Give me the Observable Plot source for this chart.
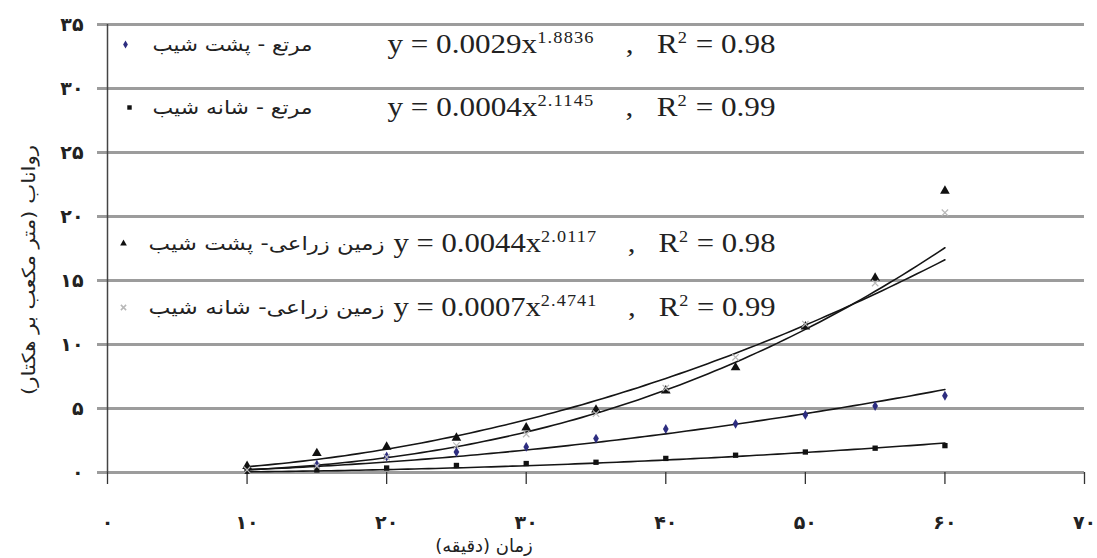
<!DOCTYPE html>
<html><head><meta charset="utf-8">
<script src="https://cdn.jsdelivr.net/npm/d3@7"></script>
<script src="https://cdn.jsdelivr.net/npm/@observablehq/plot@0.6"></script>
<style>body{margin:0;background:#fff;}</style>
</head><body><div id="chart"></div>
<script>
// ---- data ----
const times = [10, 15, 20, 25, 30, 35, 40, 45, 50, 55, 60];
const seriesNames = ["مرتع - پشت شیب", "مرتع - شانه شیب", "زمین زراعی- پشت شیب", "زمین زراعی- شانه شیب"];
const rangeBack     = [0.3, 0.6, 1.25, 1.6, 2.0, 2.65, 3.4, 3.8, 4.5, 5.2, 6.0];
const rangeShoulder = [0.1, 0.2, 0.35, 0.55, 0.7, 0.8, 1.1, 1.35, 1.6, 1.9, 2.1];
const farmBack      = [0.5, 1.5, 2.0, 2.7, 3.5, 4.9, 6.4, 8.2, 11.4, 15.2, 22.0];
const farmShoulder  = [0.2, 0.5, 1.2, 2.1, 3.0, 4.6, 6.6, 9.0, 11.6, 14.8, 20.3];
const coefA = [0.0029, 0.0004, 0.0044, 0.0007];
const coefB = [1.8836, 2.1145, 2.0117, 2.4741];
const rSquared = [0.98, 0.99, 0.98, 0.99];
const xTicks = [0, 10, 20, 30, 40, 50, 60, 70];
const xTickLabels = ["۰", "۱۰", "۲۰", "۳۰", "۴۰", "۵۰", "۶۰", "۷۰"];
const yTicks = [0, 5, 10, 15, 20, 25, 30, 35];
const yTickLabels = ["۰", "۵", "۱۰", "۱۵", "۲۰", "۲۵", "۳۰", "۳۵"];
const xTitle = "زمان (دقیقه)";
const yTitle = "رواناب (متر مکعب بر هکتار)";

// ---- tables ----
const allValues = [rangeBack, rangeShoulder, farmBack, farmShoulder];
const points = seriesNames.flatMap((s, i) => times.map((t, j) => ({series: s, idx: i, x: t, y: allValues[i][j]})));
const trendX = d3.range(times[0], times[times.length - 1] + 0.001, 0.5);
const trends = seriesNames.flatMap((s, i) => trendX.map(x => ({series: s, x, y: coefA[i] * Math.pow(x, coefB[i])})));
const NB = "\u00A0";
const equations = seriesNames.map((s, i) =>
  `y = ${coefA[i].toFixed(4)}x^{${coefB[i].toFixed(4)}}${NB.repeat(4)},${NB.repeat(3)}R^{2} = ${rSquared[i].toFixed(2)}`);

// ---- styles / layout ----
const W = 1097, H = 558;
const M = {top: 24, right: 13, bottom: 86, left: 107};
const symbols = ["diamond", "square", "triangle", "times"];
const fills = ["#2d2d80", "#111", "#111", "none"];
const strokes = ["none", "none", "none", "#b8b8b8"];
const sizes = [3, 3, 3.6, 3];
const legendLayout = [
  {top: 44, dot: 125, nameEnd: 312, nameWidth: 160, eqStart: 387, eqWidth: 388},
  {top: 107, dot: 129, nameEnd: 312, nameWidth: 160, eqStart: 387, eqWidth: 388},
  {top: 243, dot: 123, nameEnd: 384, nameWidth: 236, eqStart: 393, eqWidth: 382},
  {top: 307, dot: 123, nameEnd: 384, nameWidth: 236, eqStart: 393, eqWidth: 382}
];

const marks = [
  Plot.ruleY(yTicks, {stroke: "#9c9c9c", strokeWidth: 3}),
  Plot.axisY({ticks: yTicks, tickFormat: d => yTickLabels[yTicks.indexOf(d)], tickSize: 10, tickPadding: 14,
    stroke: "#9c9c9c", strokeWidth: 3, label: null, fontSize: 19, fontWeight: "bold"}),
  Plot.axisX({ticks: xTicks, tickFormat: d => xTickLabels[xTicks.indexOf(d)], tickSize: 12, tickPadding: 31,
    stroke: "#333", strokeWidth: 1.3, label: null, fontSize: 19, fontWeight: "bold"}),
  Plot.ruleX([0], {stroke: "#444", strokeWidth: 1.5}),
  Plot.line(trends, {x: "x", y: "y", z: "series", stroke: "#151515", strokeWidth: 1.6}),
];
seriesNames.forEach((s, i) => {
  const data = points.filter(p => p.idx === i);
  marks.push(Plot.dot(data, {x: "x", y: "y", symbol: symbols[i], r: sizes[i], fill: fills[i], stroke: strokes[i], strokeWidth: 1.2}));
  const L = legendLayout[i];
  marks.push(Plot.dot([s], {frameAnchor: "top-left", dx: L.dot - M.left, dy: L.top - M.top,
    symbol: symbols[i], r: 2.5, fill: fills[i], stroke: strokes[i]}));
  marks.push(Plot.text([s], {frameAnchor: "top-left", dx: L.nameEnd - M.left, dy: L.top - M.top,
    text: d => d, textAnchor: "end", lineAnchor: "middle", fontFamily: "DejaVu Sans", fontSize: 19, fill: "#222"}));
  marks.push(Plot.text([equations[i]], {frameAnchor: "top-left", dx: L.eqStart - M.left, dy: L.top - M.top,
    text: d => d, textAnchor: "start", lineAnchor: "middle", fontFamily: "Liberation Serif", fontSize: 27, fill: "#222"}));
});
marks.push(Plot.text([xTitle], {frameAnchor: "bottom", dx: -112, dy: 79, text: d => d, fontFamily: "DejaVu Sans", fontSize: 18, fill: "#222"}));

const chart = Plot.plot({
  width: W, height: H,
  marginTop: M.top, marginRight: M.right, marginBottom: M.bottom, marginLeft: M.left,
  x: {domain: [0, 70]},
  y: {domain: [0, 35]},
  style: {fontFamily: "DejaVu Sans", color: "#222", background: "#fff"},
  marks
});

// stretch legend names to the reference widths
d3.select(chart).selectAll("text").each(function() {
  const idx = seriesNames.indexOf(this.textContent.trim());
  if (idx < 0) return;
  d3.select(this).attr("textLength", legendLayout[idx].nameWidth).attr("lengthAdjust", "spacingAndGlyphs");
});

// y-axis title (rotated), placed in the left margin
d3.select(chart).append("text")
  .attr("transform", "translate(30,270) rotate(-90)")
  .attr("text-anchor", "middle")
  .attr("dominant-baseline", "middle")
  .attr("direction", "rtl")
  .attr("font-family", "DejaVu Sans")
  .attr("font-size", 18)
  .attr("textLength", 250)
  .attr("lengthAdjust", "spacingAndGlyphs")
  .attr("fill", "#222")
  .text(yTitle);

// superscripts in equations, stretched to the reference width
d3.select(chart).selectAll("text").each(function() {
  const t = this.textContent;
  if (!t.includes("^{")) return;
  const idx = equations.indexOf(t);
  const el = d3.select(this);
  el.text(null);
  const parts = t.split(/(\^\{[^}]*\})/);
  let pendingDown = 0;
  parts.forEach(p => {
    if (!p) return;
    if (p.startsWith("^{")) {
      el.append("tspan").attr("dy", "-10px").attr("font-size", "16px").style("letter-spacing", "1px").text(p.slice(2, -1));
      pendingDown = 10;
    } else {
      const ts = el.append("tspan").text(p);
      if (pendingDown) { ts.attr("dy", pendingDown + "px"); pendingDown = 0; }
    }
  });
  if (idx >= 0) el.attr("textLength", legendLayout[idx].eqWidth).attr("lengthAdjust", "spacingAndGlyphs");
});

document.getElementById("chart").append(chart);
</script>
</body></html>
